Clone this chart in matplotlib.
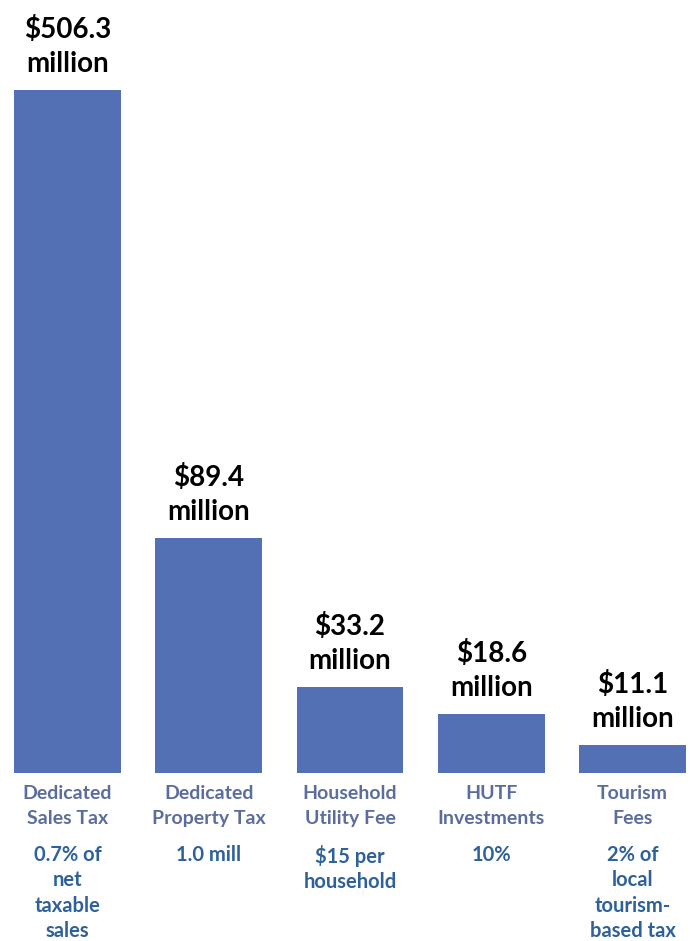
import matplotlib
matplotlib.use("Agg")
import matplotlib.pyplot as plt
import numpy as np

plt.rcParams['font.family'] = ['Lato', 'DejaVu Sans']

# data
categories = ["Dedicated\nSales Tax", "Dedicated\nProperty Tax", "Household\nUtility Fee",
              "HUTF\nInvestments", "Tourism\nFees"]
values = [506.3, 89.4, 33.2, 18.6, 11.1]  # $ million (label text)
# drawn bar heights are not to scale in the source; relative heights (first bar = 100)
bar_heights = [100, 34.4, 12.6, 8.6, 4.1]
rates = ["0.7% of\nnet\ntaxable\nsales", "1.0 mill", "$15 per\nhousehold", "10%",
         "2% of\nlocal\ntourism-\nbased tax"]

bar_color = '#5470B4'
cat_color = '#5B6D9C'
rate_color = '#2E6199'

fig = plt.figure(figsize=(6.9, 9.41), dpi=100)
ax = fig.add_axes([0, 0.1785, 1, 0.8215])

ind = np.arange(len(categories))
ax.bar(ind, bar_heights, width=0.757, color=bar_color)
ax.set_xlim(-0.478, 4.407)
ax.set_ylim(0, 113.2)
ax.axis('off')

for i, (h, v) in enumerate(zip(bar_heights, values)):
    ax.annotate(f"${v}\nmillion", (i, h), xytext=(0, 13), textcoords='offset pixels',
                ha='center', va='bottom', fontsize=20, fontweight='bold',
                color='black', linespacing=1.4)
    ax.annotate(categories[i], (i, 0), xytext=(0, -12), textcoords='offset pixels',
                ha='center', va='top', fontsize=14, fontweight='bold',
                color=cat_color, linespacing=1.6)
    ax.annotate(rates[i], (i, 0), xytext=(0, -72), textcoords='offset pixels',
                ha='center', va='top', fontsize=14.5, fontweight='bold',
                color=rate_color, linespacing=1.33)

plt.savefig("out.png", dpi=100)
